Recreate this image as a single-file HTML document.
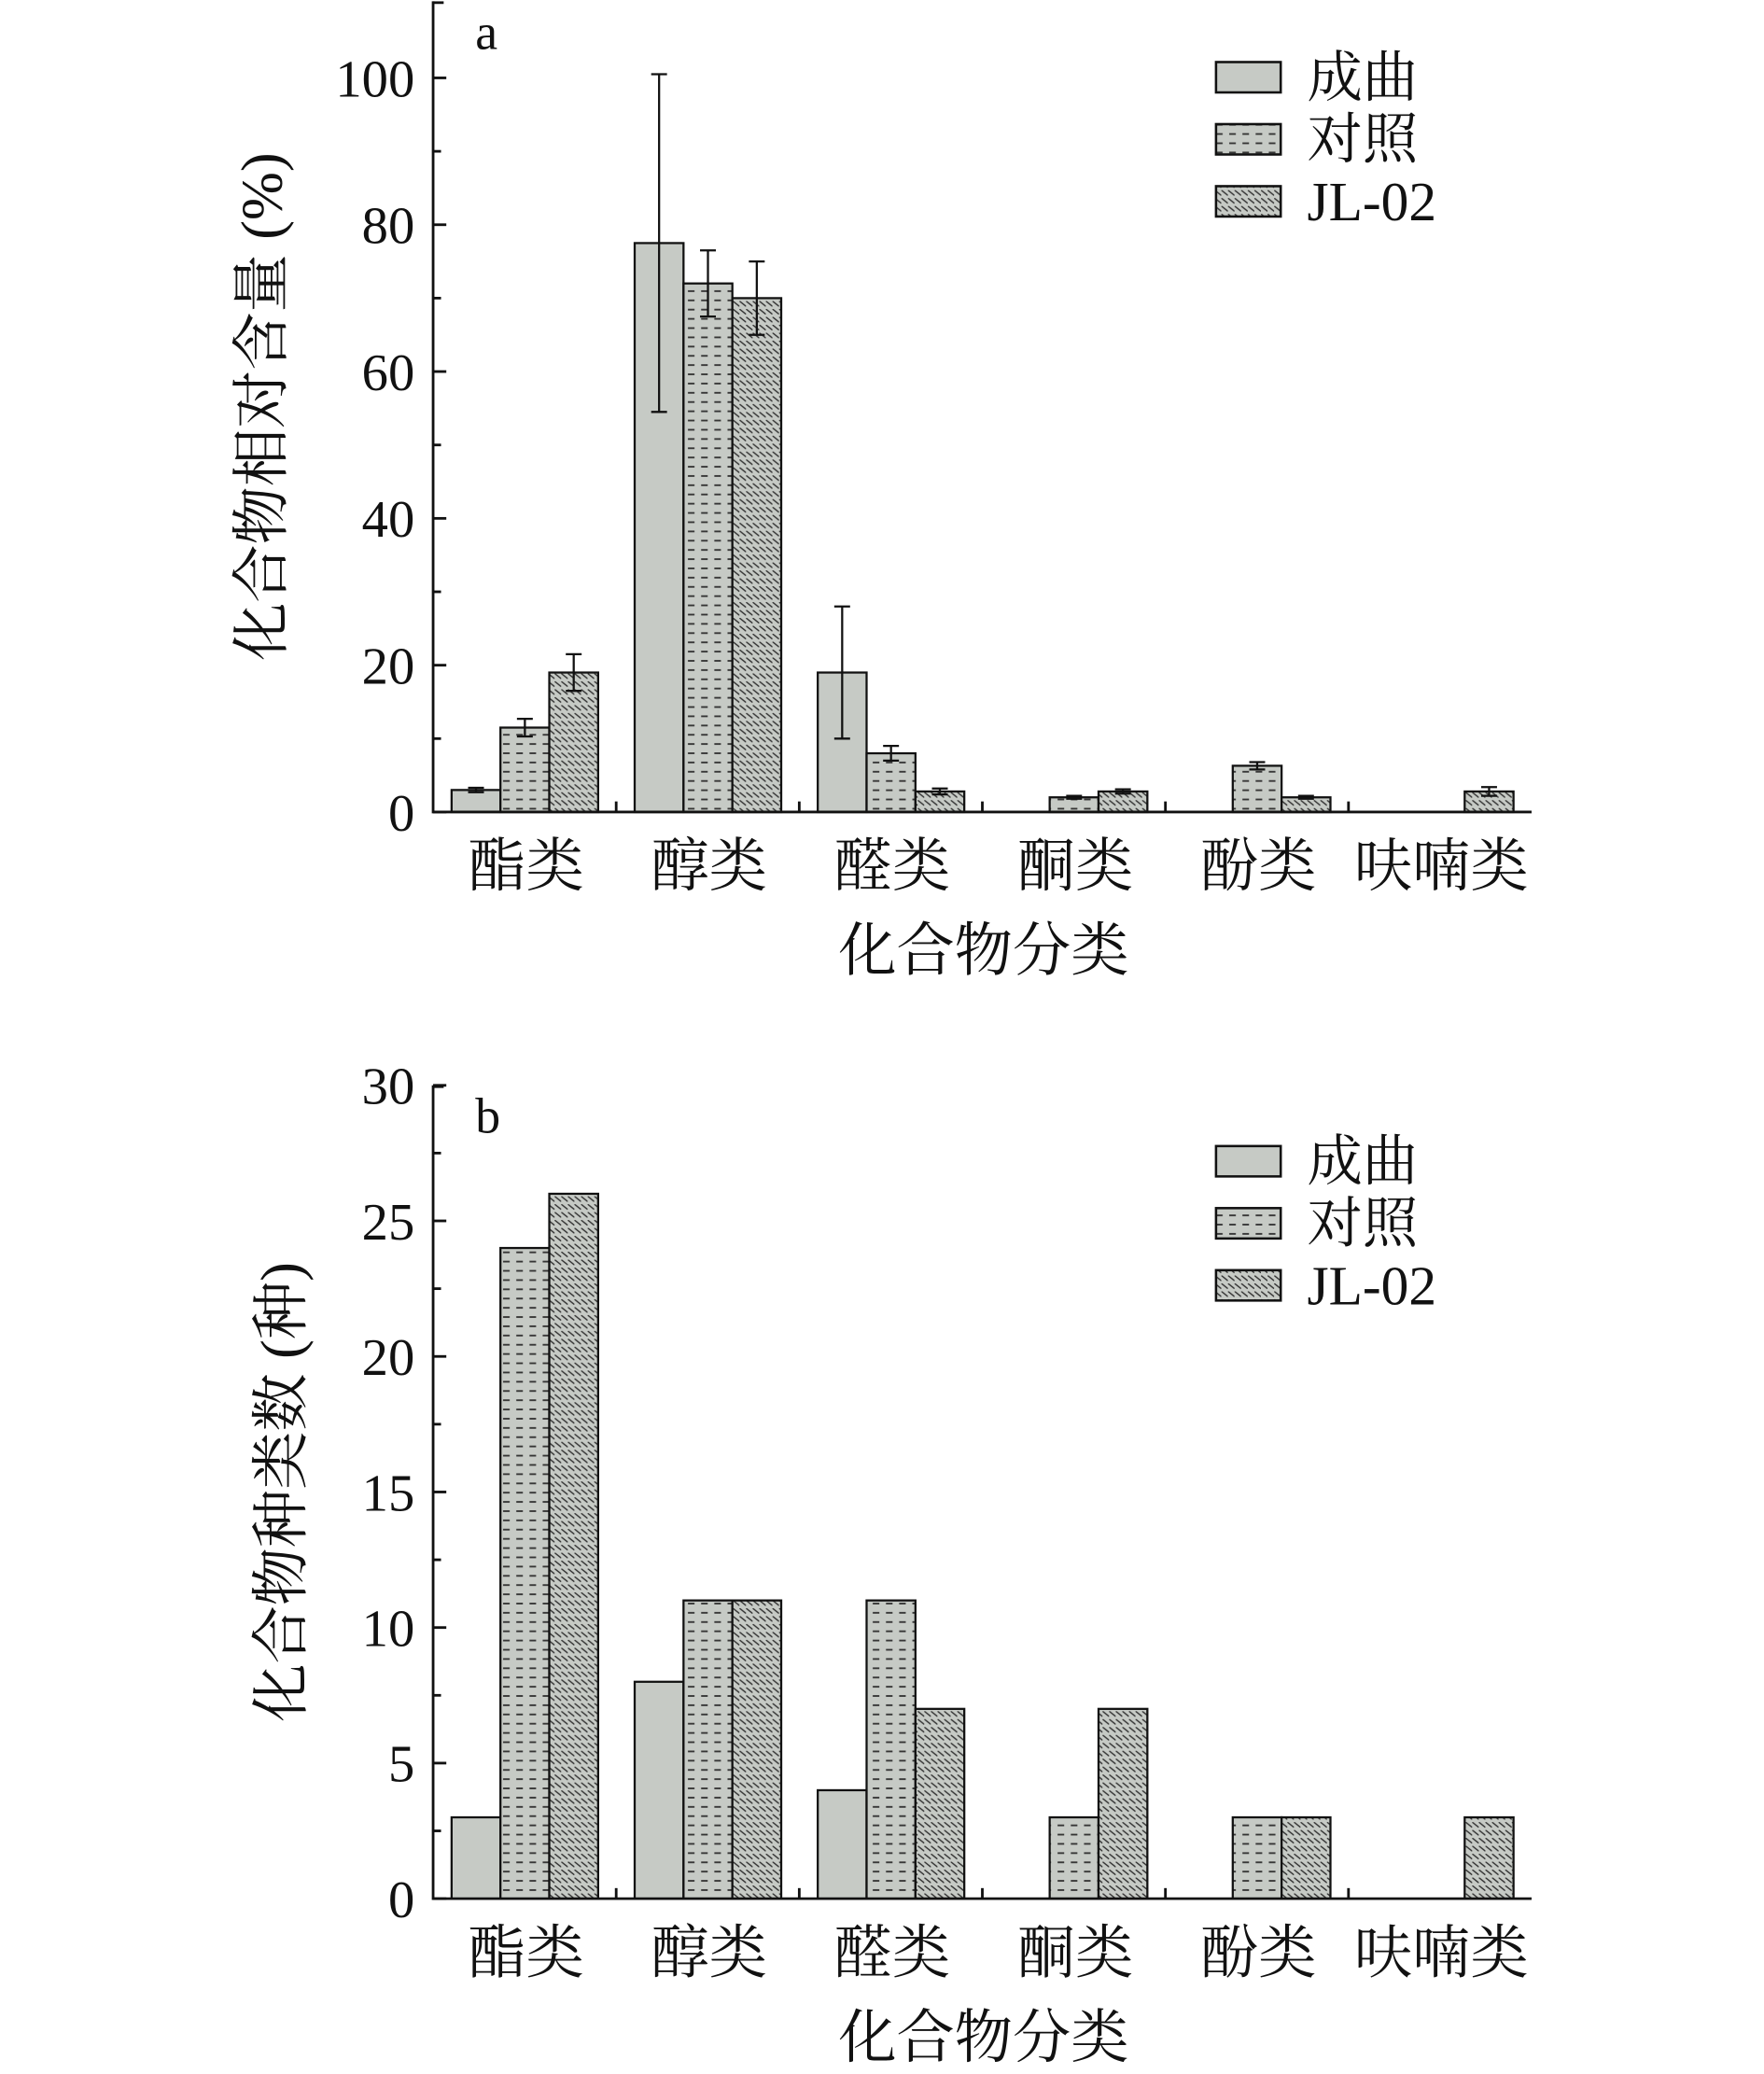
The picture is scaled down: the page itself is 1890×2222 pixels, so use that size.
<!DOCTYPE html>
<html><head><meta charset="utf-8"><style>
html,body{margin:0;padding:0;background:#fff}
svg{display:block}
text{font-family:"Liberation Serif","Noto Serif CJK SC","Noto Sans CJK SC",serif;fill:#111}
</style></head><body>
<svg id="fig" width="1890" height="2222" viewBox="0 0 1336 1570.8" xmlns="http://www.w3.org/2000/svg">
<defs>
<pattern id="pDash" width="10" height="7" patternUnits="userSpaceOnUse">
<rect width="10" height="7" fill="#c6cac5"/><line x1="1" y1="3.5" x2="6" y2="3.5" stroke="#333" stroke-width="1.3"/>
</pattern>
<pattern id="pHatch" width="5" height="6" patternUnits="userSpaceOnUse">
<rect width="5" height="6" fill="#c6cac5"/><line x1="0" y1="0" x2="5" y2="4" stroke="#333" stroke-width="1"/>
</pattern>
</defs>
<g id="chartA"></g>
<g id="chartB"></g>
</svg>
<script>
const categories = ["酯类","醇类","醛类","酮类","酚类","呋喃类"];
const seriesNames = ["成曲","对照","JL-02"];
const aChengqu = [3, 77.5, 19, 0, 0, 0];
const aChengquErr = [0.3, 23, 9, 0, 0, 0];
const aDuizhao = [11.5, 72, 8, 2, 6.3, 0];
const aDuizhaoErr = [1.2, 4.5, 1, 0.2, 0.5, 0];
const aJL02 = [19, 70, 2.8, 2.8, 2, 2.8];
const aJL02Err = [2.5, 5, 0.4, 0.3, 0.2, 0.6];
const aTicks = [0, 20, 40, 60, 80, 100];
const bChengqu = [3, 8, 4, 0, 0, 0];
const bDuizhao = [24, 11, 11, 3, 3, 0];
const bJL02 = [26, 11, 7, 7, 3, 3];
const bTicks = [0, 5, 10, 15, 20, 25, 30];

const NS = "http://www.w3.org/2000/svg";
function mk(parent, tag, attrs, txt){
  const e = document.createElementNS(NS, tag);
  for (const k in attrs) e.setAttribute(k, attrs[k]);
  if (txt !== undefined) e.textContent = txt;
  parent.appendChild(e);
  return e;
}
const fills = ["#c6cac5","url(#pDash)","url(#pHatch)"];

function drawChart(g, cfg){
  const x0 = 328, x1 = 1160, y0 = cfg.base, yTop = cfg.top;
  const yScale = v => y0 - (v / cfg.max) * (y0 - yTop);
  const groupW = (x1 - x0) / categories.length;
  const barW = 37;
  const xBar = (ci, si) => x0 + ci * groupW + 14 + si * barW;
  // bars
  cfg.series.forEach((vals, si) => {
    vals.forEach((v, ci) => {
      if (v <= 0) return;
      const r = mk(g, "rect", {x: xBar(ci, si), y: yScale(v), width: barW, height: y0 - yScale(v), fill: fills[si], stroke: "#111", "stroke-width": 1.6});
      
      
      if (cfg.errs) {
        const e = cfg.errs[si][ci];
        if (e > 0) {
          const cx = xBar(ci, si) + barW / 2;
          const eg = mk(g, "g", {stroke: "#111", "stroke-width": 1.6});
          
          
          mk(eg, "line", {x1: cx, x2: cx, y1: yScale(v + e), y2: yScale(v - e)});
          mk(eg, "line", {x1: cx - 6, x2: cx + 6, y1: yScale(v + e), y2: yScale(v + e)});
          mk(eg, "line", {x1: cx - 6, x2: cx + 6, y1: yScale(v - e), y2: yScale(v - e)});
        }
      }
    });
  });
  // axes
  const ax = mk(g, "g", {stroke: "#111", "stroke-width": 2});
  
  
  mk(ax, "line", {x1: x0, x2: x0, y1: cfg.axisTop, y2: y0 + 1});
  mk(ax, "line", {x1: x0, x2: x1, y1: y0, y2: y0});
  mk(ax, "line", {x1: x0, x2: x0 + 8, y1: cfg.axisTop + 1, y2: cfg.axisTop + 1});
  for (let i = 1; i < categories.length; i++) {
    mk(ax, "line", {x1: x0 + i * groupW, x2: x0 + i * groupW, y1: y0, y2: y0 - 8});
  }
  // y ticks
  cfg.ticks.forEach((t, i) => {
    const y = yScale(t);
    mk(ax, "line", {x1: x0, x2: x0 + 10, y1: y, y2: y});
    const lb = mk(g, "text", {x: x0 - 14, y: y + 14, "text-anchor": "end", "font-size": 40}, t);
    
    
    if (i < cfg.ticks.length - 1) {
      const m = (t + cfg.ticks[i + 1]) / 2;
      mk(ax, "line", {x1: x0, x2: x0 + 6, y1: yScale(m), y2: yScale(m)});
    }
  });
  // category labels
  categories.forEach((c, ci) => {
    const t = mk(g, "text", {x: x0 + ci * groupW + groupW / 2 + 1, y: y0 + 56, "text-anchor": "middle", "font-size": 44}, c);
    
    
  });
  const xt = mk(g, "text", {x: 745, y: y0 + 120, "text-anchor": "middle", "font-size": 44}, "化合物分类");
  
  
  const yt = mk(g, "text", {x: 0, y: 0, "text-anchor": "middle", "font-size": 44, transform: "translate(" + cfg.ytX + "," + cfg.ytY + ") rotate(-90)"}, cfg.ytitle);
  
  
  const pl = mk(g, "text", {x: 360, y: cfg.axisTop + 36, "font-size": 38}, cfg.id);
  
  
  // legend
  seriesNames.forEach((n, si) => {
    const ly = cfg.axisTop + 46 + si * 47;
    const lg = mk(g, "g", {});
    
    
    mk(lg, "rect", {x: 921, y: ly, width: 49, height: 23, fill: fills[si], stroke: "#111", "stroke-width": 1.8});
    mk(lg, "text", {x: 990, y: ly + 26, "font-size": 42}, n);
  });
}
drawChart(document.getElementById("chartA"), {
  id: "a", base: 615, top: 59, max: 100, axisTop: 1, ticks: aTicks,
  series: [aChengqu, aDuizhao, aJL02], errs: [aChengquErr, aDuizhaoErr, aJL02Err],
  ytitle: "化合物相对含量 (%)", ytX: 213, ytY: 308
});
drawChart(document.getElementById("chartB"), {
  id: "b", base: 1438, top: 822, max: 30, axisTop: 822, ticks: bTicks,
  series: [bChengqu, bDuizhao, bJL02], errs: null,
  ytitle: "化合物种类数 (种)", ytX: 228, ytY: 1130
});
</script>
</body></html>
